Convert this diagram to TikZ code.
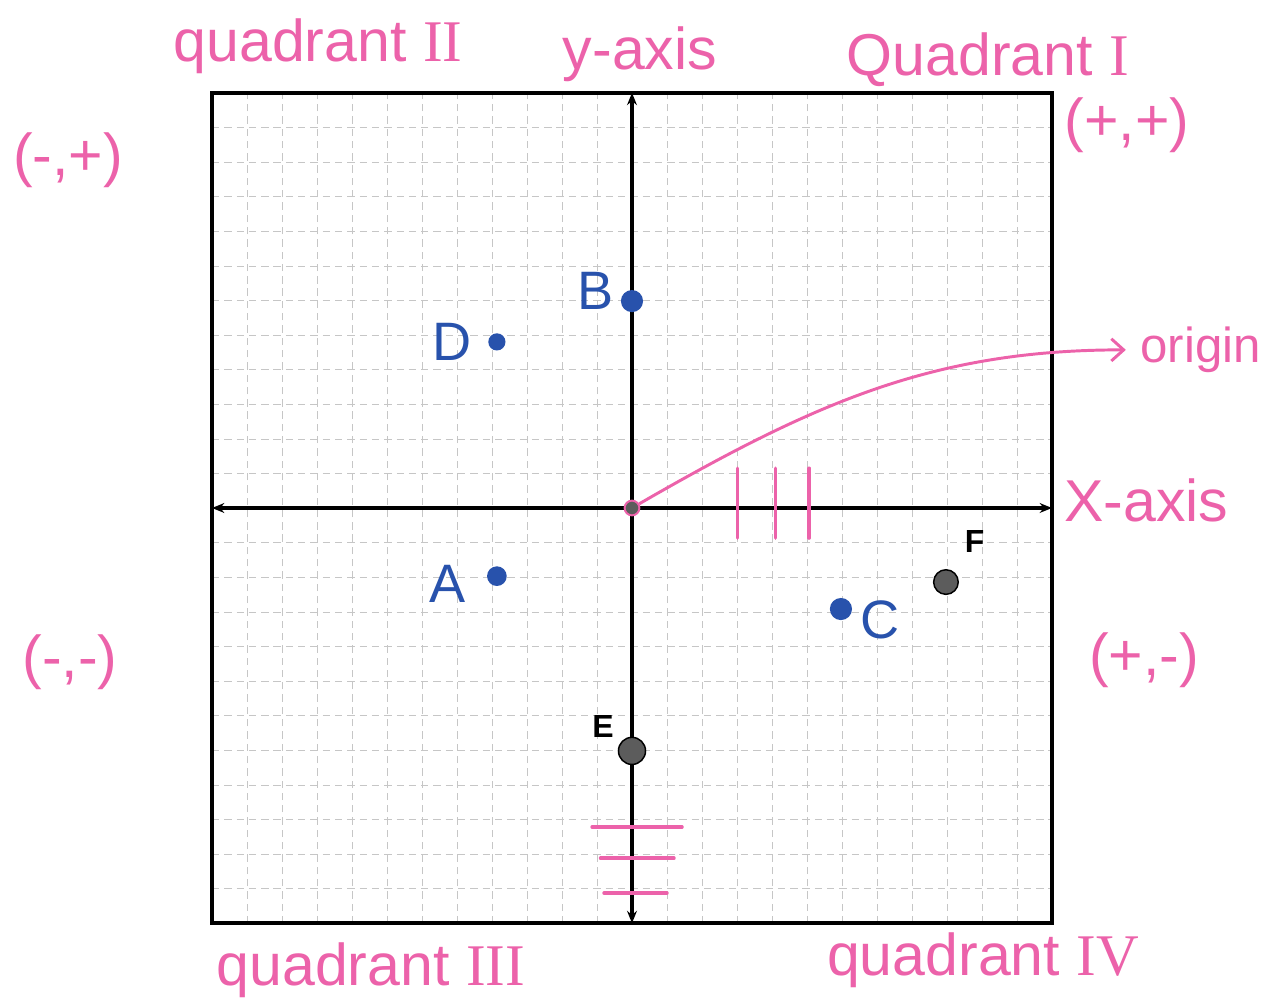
\documentclass[tikz,border=0pt]{standalone}
\usepackage{fontspec}
\setmainfont{Liberation Sans}
\newfontfamily\numeralfont{Liberation Serif}
\usetikzlibrary{arrows.meta,positioning}
\definecolor{hilite}{RGB}{236,98,170}
\definecolor{inkblue}{RGB}{40,82,172}
\definecolor{dotgray}{RGB}{92,92,92}
\newcommand{\Rom}[1]{{\numeralfont #1}}

\begin{document}
\begin{tikzpicture}[x=0.5cm, y=0.4943cm, >=Stealth,
             note/.style={text=hilite, font=\fontsize{24}{28}\selectfont, inner sep=0pt},
             gridline/.style={gray!45, very thin, densely dashed},
             axis/.style={line width=1.6pt, {Stealth[length=5pt,width=4pt]}-{Stealth[length=5pt,width=4pt]}},
             pt/.style={circle, fill=inkblue, inner sep=0pt, minimum size=9pt},
             gpt/.style={circle, fill=dotgray, draw=black, line width=0.6pt, inner sep=0pt, minimum size=11pt},
             ptlbl/.style={text=inkblue, font=\fontsize{22}{24}\selectfont, inner sep=0pt},
             glbl/.style={font=\bfseries\fontsize{13}{15}\selectfont, inner sep=0pt},
             hatch/.style={hilite, line width=1.4pt, line cap=round}]
\useasboundingbox (-18.057,-14.306) rectangle (18.086,14.682);
%% grid paper and frame
\draw[gridline, xstep=0.5cm, ystep=0.4943cm] (-12,-12) grid (12,12);
\draw[line width=1.6pt] (-12,-12) rectangle (12,12);
%% axes
\coordinate (xl) at (-12,0);
\coordinate (xr) at (12,0);
\coordinate (yb) at (0,-12);
\coordinate (yt) at (0,12);
\draw[axis] (xl) -- (xr);
\draw[axis] (yb) -- (yt);
%% tick scribbles on the axes
\foreach \hx in {3.02,4.1,5.06}
  \draw[hatch] (\hx,1.15) -- (\hx,-0.87);
\foreach \hy/\ha/\hb in {-9.22/-1.14/1.43, -10.12/-0.9/1.2, -11.13/-0.8/1.0}
  \draw[hatch] (\ha,\hy) -- (\hb,\hy);
%% plotted points
\node[pt] (ptB) at (0,5.98) {};
\node[pt, minimum size=7pt] (ptD) at (-3.86,4.8) {};
\node[pt, minimum size=8pt] (ptA) at (-3.86,-1.97) {};
\node[pt] (ptC) at (5.97,-2.92) {};
\node[gpt] (ptE) at (0,-7.02) {};
\node[gpt, minimum size=10pt] (ptF) at (8.97,-2.14) {};
\node[ptlbl, left=0.09cm of ptB, yshift=4pt] (lblB) {B};
\node[ptlbl, left=0.23cm of ptD] (lblD) {D};
\node[ptlbl, left=0.29cm of ptA, yshift=-3pt] (lblA) {A};
\node[ptlbl, right=0.11cm of ptC, yshift=-4.5pt] (lblC) {C};
\node[glbl, above left=0.04cm and 0.11cm of ptE] (lblE) {E};
\node[glbl, above right=0.29cm and 0.13cm of ptF] (lblF) {F};
%% origin marker and its pointer
\node[circle, draw=hilite, fill=dotgray, line width=0.8pt, inner sep=0pt, minimum size=6pt] (org) at (0,0) {};
\node[note, font=\fontsize{20}{24}\selectfont, anchor=west] (orglbl) at (14.51,4.57) {origin};
\draw[hilite, line width=1.2pt, -{Straight Barb[length=5pt,width=9pt]}, shorten >=0.2cm]
  (org) to[out=30, in=180] (orglbl.west);
%% quadrant names, axis names and signs
\node[note, anchor=base] (q2) at (-8.97,12.89) {quadrant \Rom{II}};
\node[note, anchor=base] (ylbl) at (0.23,12.66) {y-axis};
\node[note, anchor=base] (q1) at (10.17,12.51) {Quadrant \Rom{I}};
\node[note] (pp) at (14.14,11.07) {(+,+)};
\node[note] (mp) at (-16.11,10.06) {(-,+)};
\node[note] (xlbl) at (14.69,0.23) {X-axis};
\node[note] (mm) at (-16.06,-4.45) {(-,-)};
\node[note] (pm) at (14.63,-4.39) {(+,-)};
\node[note, anchor=base] (q3) at (-7.46,-13.79) {quadrant \Rom{III}};
\node[note, anchor=base] (q4) at (10.03,-13.5) {quadrant \Rom{IV}};
\end{tikzpicture}
\end{document}
